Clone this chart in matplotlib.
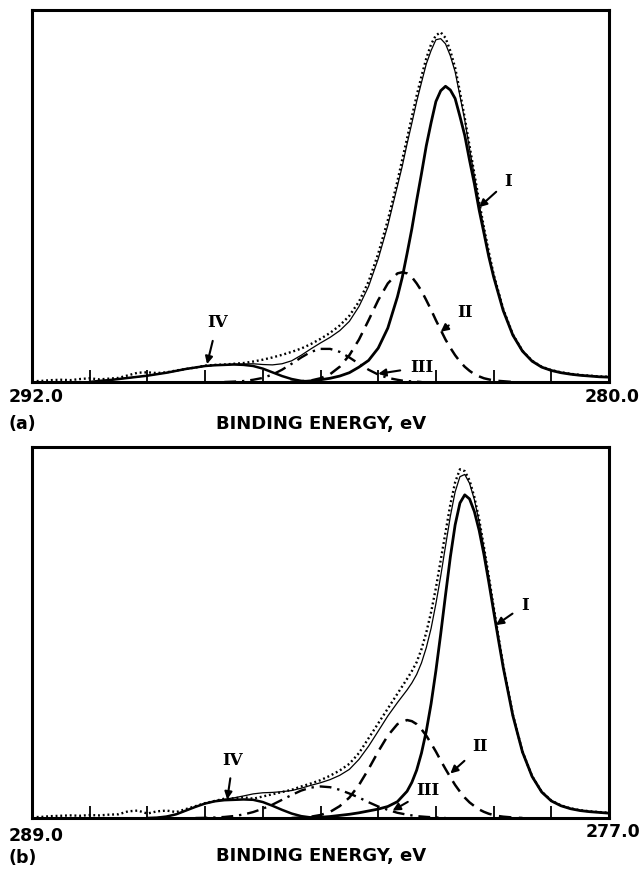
import numpy as np
import matplotlib
matplotlib.use("Agg")
import matplotlib.pyplot as plt

# ---------------- data (intensity in % of axis height) ----------------
# panel (a)
A_E = [292.0, 291.8, 291.6, 291.4, 291.2, 291.0, 290.8, 290.6, 290.4, 290.2,
       290.0, 289.8, 289.6, 289.4, 289.2, 289.0, 288.8, 288.6, 288.4, 288.2,
       288.0, 287.8, 287.6, 287.4, 287.2, 287.0, 286.8, 286.6, 286.4, 286.2,
       286.0, 285.8, 285.6, 285.4, 285.2, 285.0, 284.8, 284.6,
       284.4, 284.3, 284.2, 284.1, 284.0, 283.9, 283.8, 283.7, 283.6, 283.5,
       283.4, 283.3, 283.2, 283.1, 283.0, 282.9, 282.8, 282.7, 282.6, 282.5,
       282.4,
       282.2, 282.0, 281.8, 281.6, 281.4, 281.2, 281.0, 280.8, 280.6, 280.4,
       280.2, 280.0]
A_data = [0.2, 0.3, 0.5, 0.6, 0.5, 0.8, 1.0, 0.7, 0.9, 1.1,
          1.8, 2.5, 2.6, 2.4, 2.6, 3.1, 3.5, 3.9, 4.4, 4.6,
          4.7, 4.9, 5.1, 5.5, 6.0, 6.6, 7.3, 8.1, 9.0, 10.2,
          11.6, 13.2, 15.2, 17.8, 21.6, 27.0, 34.5, 43.5,
          54.0, 59.8, 65.5, 71.3, 77.0, 82.2, 87.0, 90.8, 93.2, 94.0,
          92.5, 89.0, 84.5, 78.0, 71.0, 63.5, 56.0, 48.5, 41.5, 35.0,
          29.0,
          19.6, 12.8, 8.4, 5.7, 4.1, 3.2, 2.6, 2.2, 1.9, 1.7,
          1.5, 1.4]
A_env = [0, 0, 0, 0, 0, 0, 0, 0.3, 0.5, 0.8,
         1.1, 1.4, 1.7, 2.1, 2.5, 3.0, 3.5, 3.9, 4.3, 4.5,
         4.6, 4.8, 4.85, 4.9, 4.7, 4.6, 4.9, 5.7, 7.2, 8.9,
         10.5, 12.0, 13.8, 16.3, 20.3, 25.7, 33.1, 42.1,
         52.7, 58.0, 64.0, 69.6, 75.4, 80.5, 85.5, 89.1, 92.0, 92.3,
         90.9, 87.7, 83.4, 76.9, 70.4, 62.6, 55.4, 47.7, 41.0, 34.4,
         28.7,
         19.4, 12.6, 8.3, 5.6, 4.0, 3.1, 2.5, 2.1, 1.8, 1.6,
         1.4, 1.3]
A_I = [0, 0, 0, 0, 0, 0, 0, 0, 0, 0,
       0, 0, 0, 0, 0, 0, 0, 0, 0, 0,
       0, 0, 0, 0, 0, 0, 0, 0, 0.1, 0.3,
       0.6, 1.0, 1.6, 2.5, 4.0, 5.8, 9.1, 14.5,
       22.9, 28.1, 34.5, 41.2, 48.8, 56.0, 63.5, 69.7, 75.4, 78.3,
       79.5, 78.5, 76.2, 71.4, 66.3, 59.6, 53.3, 46.2, 40.0, 33.7,
       28.3,
       19.2, 12.6, 8.3, 5.6, 4.0, 3.1, 2.5, 2.1, 1.8, 1.6,
       1.4, 1.3]
A_II = [0, 0, 0, 0, 0, 0, 0, 0, 0, 0,
        0, 0, 0, 0, 0, 0, 0, 0, 0, 0,
        0, 0, 0, 0, 0, 0, 0, 0, 0.2, 0.4,
        1.0, 2.1, 4.1, 7.2, 11.4, 16.6, 22.0, 26.5,
        29.2, 29.5, 29.2, 28.2, 26.5, 24.5, 22.0, 19.4, 16.6, 14.0,
        11.4, 9.2, 7.2, 5.5, 4.1, 3.0, 2.1, 1.5, 1.0, 0.7,
        0.4,
        0.2, 0, 0, 0, 0, 0, 0, 0, 0, 0,
        0, 0]
A_III = [0, 0, 0, 0, 0, 0, 0, 0, 0, 0,
         0, 0, 0, 0, 0, 0, 0, 0, 0, 0,
         0, 0.1, 0.25, 0.6, 1.1, 2.0, 3.3, 4.9, 6.6, 8.1,
         8.9, 8.9, 8.1, 6.6, 4.9, 3.3, 2.0, 1.1,
         0.6, 0.38, 0.25, 0.16, 0.1, 0, 0, 0, 0, 0,
         0, 0, 0, 0, 0, 0, 0, 0, 0, 0,
         0,
         0, 0, 0, 0, 0, 0, 0, 0, 0, 0,
         0, 0]
A_IV = [0, 0, 0, 0, 0, 0, 0, 0.3, 0.5, 0.8,
        1.1, 1.4, 1.7, 2.1, 2.5, 3.0, 3.5, 3.9, 4.3, 4.5,
        4.6, 4.7, 4.6, 4.3, 3.6, 2.6, 1.6, 0.8, 0.3, 0.1,
        0, 0, 0, 0, 0, 0, 0, 0,
        0, 0, 0, 0, 0, 0, 0, 0, 0, 0,
        0, 0, 0, 0, 0, 0, 0, 0, 0, 0,
        0,
        0, 0, 0, 0, 0, 0, 0, 0, 0, 0,
        0, 0]

# panel (b)
B_E = [289.0, 288.8, 288.6, 288.4, 288.2, 288.0, 287.8, 287.6, 287.4, 287.2,
       287.0, 286.8, 286.6, 286.4, 286.2, 286.0, 285.8, 285.6, 285.4, 285.2,
       285.0, 284.8, 284.6, 284.4, 284.2, 284.0, 283.8, 283.6, 283.4, 283.2,
       283.0, 282.8, 282.6, 282.4, 282.2, 282.0, 281.8, 281.6, 281.4,
       281.2, 281.1, 281.0, 280.9, 280.8, 280.7, 280.6, 280.5, 280.4, 280.3,
       280.2, 280.1, 280.0, 279.9, 279.8, 279.7, 279.6, 279.5, 279.4, 279.3,
       279.2,
       279.0, 278.8, 278.6, 278.4, 278.2, 278.0, 277.8, 277.6, 277.4, 277.2,
       277.0]
B_data = [0.2, 0.3, 0.5, 0.6, 0.7, 0.6, 0.8, 0.7, 0.9, 1.0,
          1.8, 2.0, 1.2, 1.8, 2.0, 1.6, 2.4, 3.2, 4.0, 4.6,
          5.2, 5.3, 5.6, 5.2, 5.8, 6.4, 7.0, 7.6, 8.5, 9.3,
          10.2, 11.4, 12.8, 14.6, 17.5, 21.5, 25.5, 29.5, 33.5,
          37.5, 39.6, 42.0, 45.5, 50.0, 55.5, 62.0, 69.5, 77.0, 84.5,
          90.5, 94.0, 93.5, 91.0, 86.5, 80.5, 73.0, 65.2, 57.0, 49.0,
          41.2,
          27.9, 17.9, 11.3, 7.1, 4.7, 3.4, 2.6, 2.1, 1.8, 1.6,
          1.4]
B_env = [0, 0, 0, 0, 0, 0, 0, 0, 0, 0,
         0, 0, 0, 0.1, 0.4, 1.0, 2.0, 3.0, 3.95, 4.63,
         5.08, 5.43, 5.95, 6.5, 6.8, 6.9, 7.1, 7.4, 8.03, 8.8,
         9.5, 10.35, 11.5, 13.1, 15.8, 19.35, 23.4, 27.5, 31.1,
         34.5, 36.4, 38.7, 41.8, 45.9, 51.1, 57.75, 65.2, 73.3, 81.3,
         87.9, 92.0, 92.6, 90.2, 85.8, 79.8, 72.65, 64.75, 56.6, 48.6,
         40.95,
         27.73, 17.8, 11.2, 7.0, 4.6, 3.3, 2.5, 2.0, 1.7, 1.5,
         1.3]
B_I = [0, 0, 0, 0, 0, 0, 0, 0, 0, 0,
       0, 0, 0, 0, 0, 0, 0, 0, 0, 0,
       0, 0, 0, 0, 0, 0, 0, 0, 0, 0.1,
       0.2, 0.4, 0.7, 1.0, 1.4, 1.9, 2.4, 3.1, 4.4,
       7.2, 9.6, 12.9, 17.5, 23.4, 30.8, 39.7, 49.6, 60.1, 70.3,
       79.0, 84.9, 87.1, 86.0, 82.6, 77.5, 71.0, 63.6, 55.8, 48.1,
       40.6,
       27.6, 17.8, 11.2, 7.0, 4.6, 3.3, 2.5, 2.0, 1.7, 1.5,
       1.3]
B_II = [0, 0, 0, 0, 0, 0, 0, 0, 0, 0,
        0, 0, 0, 0, 0, 0, 0, 0, 0, 0,
        0, 0, 0, 0, 0, 0, 0, 0, 0.13, 0.35,
        0.8, 1.65, 3.2, 5.5, 8.9, 13.2, 17.9, 22.2, 25.3,
        26.4, 26.1, 25.3, 23.9, 22.2, 20.1, 17.9, 15.5, 13.2, 11.0,
        8.9, 7.1, 5.5, 4.2, 3.2, 2.3, 1.65, 1.15, 0.8, 0.53,
        0.35,
        0.13, 0, 0, 0, 0, 0, 0, 0, 0, 0,
        0]
B_III = [0, 0, 0, 0, 0, 0, 0, 0, 0, 0,
         0, 0, 0, 0, 0, 0, 0, 0, 0.05, 0.13,
         0.28, 0.53, 0.95, 1.6, 2.5, 3.6, 4.9, 6.2, 7.4, 8.2,
         8.5, 8.3, 7.6, 6.6, 5.5, 4.25, 3.1, 2.2, 1.4,
         0.9, 0.7, 0.5, 0.4, 0.3, 0.22, 0.15, 0.1, 0, 0,
         0, 0, 0, 0, 0, 0, 0, 0, 0, 0,
         0,
         0, 0, 0, 0, 0, 0, 0, 0, 0, 0,
         0]
B_IV = [0, 0, 0, 0, 0, 0, 0, 0, 0, 0,
        0, 0, 0, 0.1, 0.4, 1.0, 2.0, 3.0, 3.9, 4.5,
        4.8, 4.9, 5.0, 4.9, 4.3, 3.3, 2.2, 1.2, 0.5, 0.15,
        0, 0, 0, 0, 0, 0, 0, 0, 0,
        0, 0, 0, 0, 0, 0, 0, 0, 0, 0,
        0, 0, 0, 0, 0, 0, 0, 0, 0, 0,
        0,
        0, 0, 0, 0, 0, 0, 0, 0, 0, 0,
        0]

A_range = [292.0, 280.0]
B_range = [289.0, 277.0]
A_ticks = [290.8, 289.6, 288.4, 287.2, 286.0, 284.8, 283.6, 282.4, 281.2]
B_ticks = [287.8, 286.6, 285.4, 284.2, 283.0, 281.8, 280.6, 279.4, 278.2]
A_end_labels = ["292.0", "280.0"]
B_end_labels = ["289.0", "277.0"]
x_title = "BINDING ENERGY, eV"
peak_names = ["I", "II", "III", "IV"]
# label positions (text, arrow tip) in data coords
A_ann = [((282.10, 54.0), (282.70, 47.0)),
         ((283.00, 18.6), (283.50, 13.5)),
         ((283.90, 4.0), (284.80, 2.2)),
         ((288.15, 15.9), (288.36, 4.8))]
B_ann = [((278.75, 57.4), (279.35, 52.0)),
         ((279.68, 19.2), (280.30, 12.0)),
         ((280.76, 7.5), (281.50, 2.0)),
         ((284.82, 15.6), (284.94, 5.0))]

# ---------------- figure ----------------
W, H = 642, 869
fig = plt.figure(figsize=(W / 100, H / 100), dpi=100)


def box(l, t, r, b):
    return [l / W, 1 - b / H, (r - l) / W, (b - t) / H]


def visible(v):
    v = np.asarray(v, float)
    m = v > 0
    m = m | np.roll(m, 1) | np.roll(m, -1)
    out = v.copy()
    out[~m] = np.nan
    return out


def panel(ax, E, data, env, c1, c2, c3, c4, xr, ticks, ann):
    E = np.asarray(E, float)
    ax.plot(E, data, color="black", lw=1.7, linestyle=(0, (0.8, 1.2)))
    ax.plot(E, env, color="black", lw=0.9)
    ax.plot(E, visible(c1), color="black", lw=2.0)
    ax.plot(E, visible(c2), color="black", lw=1.8, linestyle=(0, (5, 3)))
    ax.plot(E, visible(c3), color="black", lw=1.7,
            linestyle=(0, (5, 2.5, 1, 2.5)))
    ax.plot(E, visible(c4), color="black", lw=1.8)
    ax.set_xlim(xr[0], xr[1])
    ax.set_ylim(0, 100)
    ax.set_xticks(ticks)
    ax.set_yticks([])
    ax.tick_params(axis="x", direction="in", length=9, width=1.3,
                   labelbottom=False, bottom=True, top=False)
    for s in ax.spines.values():
        s.set_linewidth(2.2)
    for name, (txt, tip) in zip(peak_names, ann):
        ax.annotate(name, xy=tip, xytext=txt, ha="center", va="center",
                    fontsize=12, fontweight="bold", family="DejaVu Serif",
                    arrowprops=dict(arrowstyle="-|>", color="black", lw=1.5,
                                    mutation_scale=11, shrinkA=5, shrinkB=0))


axa = fig.add_axes(box(32, 10, 609, 382))
axb = fig.add_axes(box(32, 447, 609, 818))
panel(axa, A_E, A_data, A_env, A_I, A_II, A_III, A_IV, A_range, A_ticks, A_ann)
panel(axb, B_E, B_data, B_env, B_I, B_II, B_III, B_IV, B_range, B_ticks, B_ann)

tkw = dict(fontweight="bold", family="DejaVu Sans", va="center")
fig.text(36 / W, 1 - 397 / H, A_end_labels[0], ha="center", fontsize=12.5, **tkw)
fig.text(640 / W, 1 - 397 / H, A_end_labels[1], ha="right", fontsize=12.5, **tkw)
fig.text(8 / W, 1 - 424 / H, "(a)", ha="left", fontsize=12.5, **tkw)
fig.text(321 / W, 1 - 424 / H, x_title, ha="center", fontsize=13, **tkw)
fig.text(36 / W, 1 - 836 / H, B_end_labels[0], ha="center", fontsize=12.5, **tkw)
fig.text(640 / W, 1 - 832 / H, B_end_labels[1], ha="right", fontsize=12.5, **tkw)
fig.text(8 / W, 1 - 858 / H, "(b)", ha="left", fontsize=12.5, **tkw)
fig.text(321 / W, 1 - 856 / H, x_title, ha="center", fontsize=13, **tkw)

fig.savefig("out.png", dpi=100)
